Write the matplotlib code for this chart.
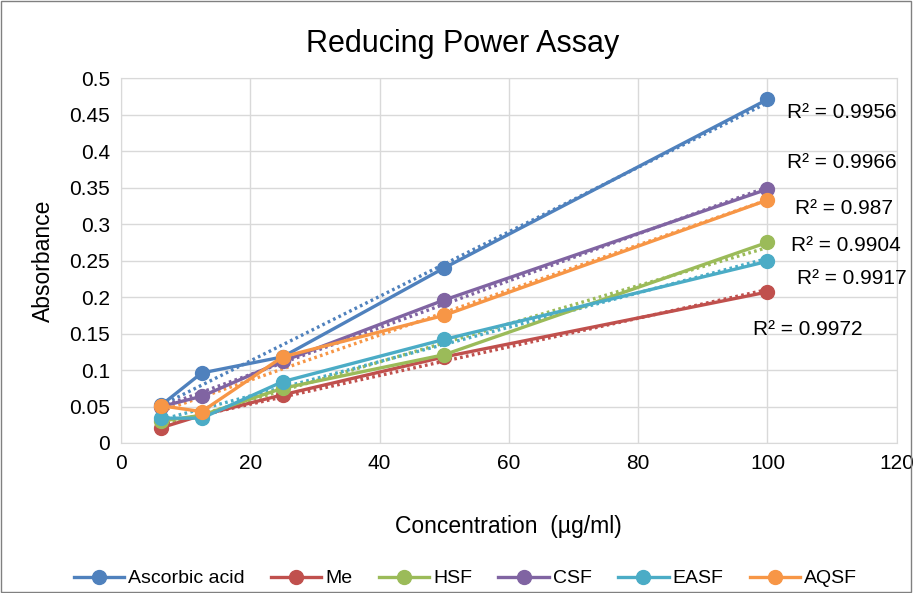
import matplotlib.pyplot as plt
import matplotlib.patches as mpatches
import numpy as np

plt.rcParams.update({'font.size': 15, 'font.family': ['Liberation Sans', 'DejaVu Sans']})

conc = [6.25, 12.5, 25, 50, 100]
names = ['Ascorbic acid', 'Me', 'HSF', 'CSF', 'EASF', 'AQSF']
ascorbic = [0.052, 0.096, 0.118, 0.240, 0.471]
me = [0.021, 0.038, 0.066, 0.118, 0.207]
hsf = [0.030, 0.038, 0.075, 0.121, 0.275]
csf = [0.050, 0.064, 0.112, 0.196, 0.348]
easf = [0.034, 0.034, 0.084, 0.142, 0.249]
aqsf = [0.051, 0.043, 0.118, 0.175, 0.333]
r2_text = ['0.9956', '0.9966', '0.987', '0.9904', '0.9917', '0.9972']
# label anchor points (data coords) for the R² texts
r2_pos = [(103.0, 0.453), (103.0, 0.385), (104.2, 0.321), (103.7, 0.271), (104.6, 0.225), (97.8, 0.155)]

colors = ['#4F81BD', '#C0504D', '#9BBB59', '#8064A2', '#4BACC6', '#F79646']
series = [ascorbic, me, hsf, csf, easf, aqsf]

fig = plt.figure(figsize=(9.16, 5.93), dpi=100)
ax = fig.add_axes([0.132, 0.253, 0.847, 0.615])

x = np.array(conc)
for name, vals, c in zip(names, series, colors):
    ax.plot(x, vals, '-o', color=c, lw=2.4, ms=10, label=name, zorder=3)
    k, b = np.polyfit(x, vals, 1)
    ax.plot(x[[0, -1]], k * x[[0, -1]] + b, linestyle=(0, (0.8, 1.0)), color=c, lw=2.4, zorder=2)

for (tx, ty), t in zip(r2_pos, r2_text):
    ax.text(tx, ty, 'R² = ' + t, ha='left', va='center', fontsize=15)

ax.set_xlim(0, 120)
ax.set_ylim(0, 0.5)
ax.set_xticks(range(0, 121, 20))
ax.set_yticks(np.arange(0, 0.51, 0.05))
ax.set_yticklabels(['0', '0.05', '0.1', '0.15', '0.2', '0.25', '0.3', '0.35', '0.4', '0.45', '0.5'])
ax.grid(True, color='#D9D9D9', lw=1)
ax.set_axisbelow(True)
ax.tick_params(length=0, pad=8, labelsize=15)
for s in ax.spines.values():
    s.set_color('#D9D9D9')
ax.set_xlabel('Concentration  (µg/ml)', fontsize=16.5, labelpad=30)
ax.set_ylabel('Absorbance', fontsize=16.5, labelpad=10)
fig.suptitle('Reducing Power Assay', fontsize=22, x=0.505, y=0.925, va='center')

fig.legend(loc='lower center', bbox_to_anchor=(0.508, -0.02), ncol=6, frameon=False,
           fontsize=14, handlelength=2.6, columnspacing=1.35, handletextpad=0.2)
fig.patches.append(mpatches.Rectangle((0.001, 0.001), 0.994, 0.997, transform=fig.transFigure,
                                      fill=False, edgecolor='#808080', lw=1))

fig.savefig('out.png', dpi=100)
